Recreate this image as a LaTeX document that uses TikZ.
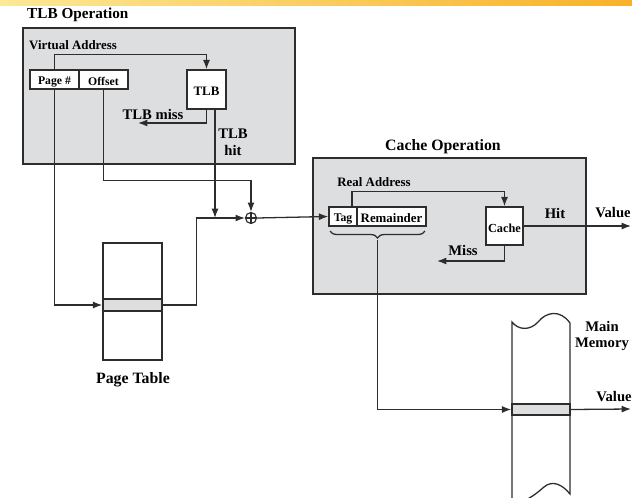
\documentclass[tikz,border=0pt]{standalone}
\usepackage{fontspec}
\setmainfont{Liberation Serif}
\usepackage{xcolor}
\usetikzlibrary{arrows.meta}
\usetikzlibrary{fit, decorations.pathreplacing}
\definecolor{boxgray}{RGB}{221,222,224}
\definecolor{linegray}{RGB}{45,45,45}
\definecolor{bandyellow}{RGB}{252,232,150}
\definecolor{bandorange}{RGB}{248,178,40}

\tikzset{
  opbox/.style={draw=linegray, fill=boxgray, line width=1.2pt, inner sep=0pt},
  cell/.style={draw=linegray, fill=white, line width=1.2pt, inner sep=0pt},
  celltxt/.style={inner sep=0pt, yshift=-2*0.03cm, font=\bfseries\fontsize{10}{11}\selectfont},
  grayrow/.style={draw=linegray, fill=boxgray, line width=1.2pt, inner sep=0pt},
  arr/.style={-{Latex[length=8pt,width=6pt]}, draw=linegray, line width=1.1pt},
  wire/.style={draw=linegray, line width=1.1pt},
  lbl/.style={font=\bfseries\fontsize{12.5}{14.5}\selectfont, inner sep=0pt, align=center},
  smlbl/.style={font=\bfseries\fontsize{11}{13}\selectfont, inner sep=0pt}
}

\begin{document}
\begin{tikzpicture}[x=0.03cm, y=-0.03cm]
\useasboundingbox (0,0) rectangle (632,498);

% banner strip
\shade[left color=bandyellow, right color=bandorange] (0,0) rectangle (632,5);

% TLB operation
\node[lbl, anchor=west, font=\bfseries\fontsize{13}{15}\selectfont] (tlbtitle) at (27,15) {TLB Operation};
\node[opbox, fit={(23,28) (295,164)}] (tlbop) {};
\node[smlbl, anchor=west] (vaddr) at (29,45) {Virtual Address};
\node[cell, fit={(30,70) (79,89)}] (pagenum) {};
\node[celltxt] at (pagenum) {Page \#};
\node[cell, fit={(79,70) (128,89)}] (offset) {};
\node[celltxt] at (offset) {Offset};
\node[cell, fit={(187,70) (226,109)}] (tlb) {};
\node[celltxt, font=\bfseries\fontsize{11}{12}\selectfont] at (tlb) {TLB};
\node[lbl] (misslbl) at (153,114) {TLB miss};
\node[lbl] (hitlbl) at (233,142) {TLB\\hit};
\coordinate (missend) at (138,123);

% page table
\node[cell, fit={(103,243) (162,360)}] (ptable) {};
\node[grayrow, fit={(103,299) (162,311)}] (ptrow) {};
\node[lbl, font=\bfseries\fontsize{13.5}{15}\selectfont] (ptlbl) at (133,380) {Page Table};

% adder
\node[circle, draw=linegray, line width=1pt, minimum size=11*0.03cm, inner sep=0pt] (xor) at (251,218) {};
\draw[linegray, line width=0.9pt] (xor.north) -- (xor.south) (xor.west) -- (xor.east);
\coordinate (hitjoin) at (215,218);

% cache operation
\node[lbl, font=\bfseries\fontsize{13.5}{15}\selectfont] (cachetitle) at (443,147) {Cache Operation};
\node[opbox, fit={(313,158) (586,294)}] (cacheop) {};
\node[smlbl] (raddr) at (374,182) {Real Address};
\node[cell, fit={(329,207) (357,226)}] (tag) {};
\node[celltxt] at (tag) {Tag};
\node[cell, fit={(357,207) (426,226)}] (remainder) {};
\node[celltxt, font=\bfseries\fontsize{11}{12}\selectfont] at (remainder) {Remainder};
\node[cell, fit={(486,207) (523,245)}] (cache) {};
\node[celltxt, font=\bfseries\fontsize{10.5}{12}\selectfont] at (cache) {Cache};
\node[lbl] (hitword) at (555,213) {Hit};
\node[lbl] (value1) at (613,213) {Value};
\node[lbl] (misword) at (463,250) {Miss};
\coordinate (hitend) at (631,226);
\coordinate (missend2) at (437,261);
\draw[wire, decorate, decoration={brace, mirror, amplitude=6pt}] (330,231) -- (425,231);
\coordinate (bracetip) at (377.5,240);

% main memory
\draw[wire, fill=white] (512,502) -- (512,322)
  .. controls (518,330) and (530,331) .. (538,322)
  .. controls (546,312) and (560,309) .. (570,323)
  -- (570,494) .. controls (562,484) and (552,480) .. (544,487)
  .. controls (536,494) and (528,500) .. (520,502);
\node[grayrow, fit={(512,404) (570,415)}] (memrow) {};
\node[lbl] (memlbl) at (602,336) {Main\\Memory};
\node[lbl] (value2) at (614,397) {Value};
\coordinate (valend) at (631,409);

% connectors
\draw[arr] (pagenum.north) -- ++(0,-15) -| (tlb.north);
\draw[arr] (tlb.south) |- (missend);
\draw[arr] (tlb.south -| hitjoin) -- (hitjoin);
\draw[arr] (offset.south) -- ++(0,91) -| (xor.north);
\draw[arr] (pagenum.south) |- (ptrow.west);
\draw[arr] (ptrow.east) -- ++(34,0) |- (xor.west);
\draw[arr] (xor.east) -- (tag.west);
\draw[arr] ([xshift=9*0.03cm]tag.north) -- ++(0,-15) -| (cache.north);
\draw[arr] (cache.east) -- (hitend);
\draw[arr] (cache.south) |- (missend2);
\draw[arr] (bracetip) |- (memrow.west);
\draw[arr] (memrow.east) -- (valend);
\end{tikzpicture}
\end{document}
